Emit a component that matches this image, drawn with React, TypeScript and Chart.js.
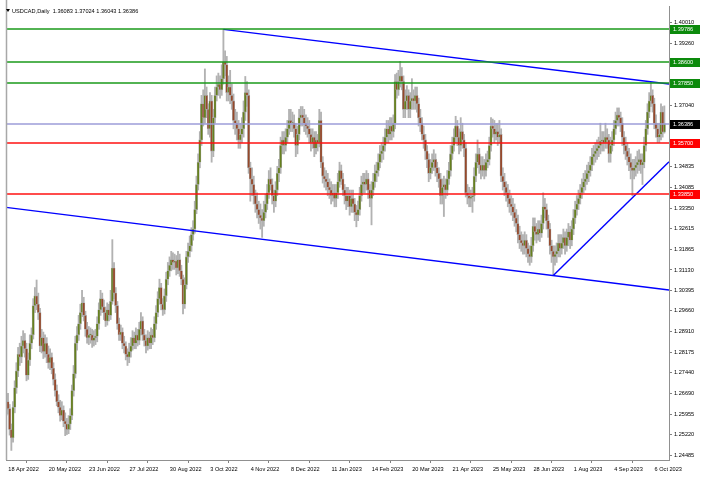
import React, { useEffect, useRef } from "react";
import { Chart, registerables } from "chart.js";

Chart.register(...registerables);

// ---- axis labels ----
const xTickIndex = [0, 24, 48, 72, 96, 120, 144, 168, 192, 216, 240, 264, 288, 312, 336, 360, 384];
const xTickLabels = [
  "18 Apr 2022", "20 May 2022", "23 Jun 2022", "27 Jul 2022", "30 Aug 2022", "3 Oct 2022",
  "4 Nov 2022", "8 Dec 2022", "11 Jan 2023", "14 Feb 2023", "20 Mar 2023", "21 Apr 2023",
  "25 May 2023", "28 Jun 2023", "1 Aug 2023", "4 Sep 2023", "6 Oct 2023",
];
const yTickValues = [
  1.4001, 1.3926, 1.38525, 1.3779, 1.3704, 1.36305, 1.3557, 1.34835, 1.34085, 1.3335, 1.32615,
  1.31865, 1.3113, 1.30395, 1.2966, 1.2891, 1.28175, 1.2744, 1.2669, 1.25955, 1.2522, 1.24485,
];

// ---- daily candles (USDCAD) ----
const closes = [
  1.2640, 1.2615, 1.2540, 1.2510, 1.2620, 1.2690, 1.2750, 1.2810, 1.2800, 1.2840,
  1.2860, 1.2830, 1.2735, 1.2790, 1.2850, 1.2880, 1.2985, 1.3020, 1.2990, 1.2960,
  1.2840, 1.2870, 1.2820, 1.2850, 1.2810, 1.2780, 1.2800, 1.2760, 1.2720, 1.2680,
  1.2640, 1.2620, 1.2590, 1.2610, 1.2570, 1.2560, 1.2540, 1.2560, 1.2590, 1.2680,
  1.2740, 1.2850, 1.2880, 1.2920, 1.2960, 1.2995, 1.2950, 1.2900, 1.2870, 1.2880,
  1.2880, 1.2860, 1.2870, 1.2875, 1.2920, 1.2970, 1.3010, 1.2980, 1.2960, 1.2930,
  1.2970, 1.2950, 1.3000, 1.3120, 1.3030, 1.2985, 1.2920, 1.2880, 1.2890, 1.2850,
  1.2840, 1.2810, 1.2800, 1.2820, 1.2840, 1.2870, 1.2850, 1.2880, 1.2860, 1.2900,
  1.2930, 1.2880, 1.2860, 1.2840, 1.2870, 1.2850, 1.2880, 1.2870, 1.2920, 1.2960,
  1.3010, 1.3050, 1.2990, 1.2970, 1.3020, 1.3080, 1.3110, 1.3130, 1.3150, 1.3140,
  1.3145, 1.3120, 1.3150, 1.3110, 1.3080, 1.2990, 1.3060, 1.3160, 1.3180, 1.3200,
  1.3240, 1.3260, 1.3330, 1.3420, 1.3500, 1.3580, 1.3710, 1.3660, 1.3740, 1.3690,
  1.3620, 1.3720, 1.3540, 1.3660, 1.3740, 1.3770, 1.3780, 1.3760, 1.3800, 1.3860,
  1.3850, 1.3750, 1.3770, 1.3740, 1.3720, 1.3650, 1.3640, 1.3620, 1.3580, 1.3600,
  1.3620, 1.3680, 1.3750, 1.3740, 1.3480, 1.3440, 1.3420, 1.3380, 1.3350, 1.3330,
  1.3310, 1.3300, 1.3290, 1.3320, 1.3350, 1.3390, 1.3440, 1.3420, 1.3380, 1.3360,
  1.3400, 1.3460, 1.3480, 1.3560, 1.3580, 1.3560, 1.3590, 1.3620, 1.3650, 1.3640,
  1.3640, 1.3620, 1.3560, 1.3600, 1.3660, 1.3670, 1.3660, 1.3640, 1.3630, 1.3620,
  1.3600, 1.3570, 1.3590, 1.3550, 1.3580, 1.3570, 1.3650, 1.3500, 1.3450, 1.3440,
  1.3430, 1.3410, 1.3400, 1.3380, 1.3390, 1.3370, 1.3390, 1.3430, 1.3470, 1.3440,
  1.3400, 1.3380, 1.3360, 1.3380, 1.3340, 1.3370, 1.3350, 1.3320, 1.3310, 1.3330,
  1.3380, 1.3420, 1.3430, 1.3420, 1.3440, 1.3400, 1.3370, 1.3400, 1.3430, 1.3460,
  1.3470, 1.3500, 1.3530, 1.3540, 1.3560, 1.3590, 1.3620, 1.3600, 1.3630, 1.3610,
  1.3640, 1.3790, 1.3760, 1.3790, 1.3810, 1.3790, 1.3690, 1.3720, 1.3740, 1.3690,
  1.3720, 1.3730, 1.3720, 1.3740, 1.3710, 1.3660, 1.3640, 1.3600, 1.3580, 1.3540,
  1.3510, 1.3460, 1.3480, 1.3500, 1.3510, 1.3480, 1.3460, 1.3440, 1.3380, 1.3410,
  1.3420, 1.3400, 1.3440, 1.3470, 1.3530, 1.3560, 1.3590, 1.3630, 1.3590, 1.3560,
  1.3610, 1.3580, 1.3550, 1.3390, 1.3380, 1.3370, 1.3375, 1.3380, 1.3450, 1.3500,
  1.3530, 1.3490, 1.3470, 1.3490, 1.3470, 1.3500, 1.3510, 1.3560, 1.3630, 1.3620,
  1.3600, 1.3610, 1.3590, 1.3600, 1.3450, 1.3430, 1.3410, 1.3390, 1.3370, 1.3350,
  1.3340, 1.3320, 1.3300, 1.3280, 1.3240, 1.3220, 1.3210, 1.3200, 1.3220, 1.3190,
  1.3170, 1.3160, 1.3200, 1.3270, 1.3250, 1.3240, 1.3260, 1.3245, 1.3280, 1.3340,
  1.3330, 1.3290, 1.3260, 1.3200, 1.3180, 1.3160, 1.3170, 1.3180, 1.3210, 1.3190,
  1.3210, 1.3230, 1.3200, 1.3230, 1.3250, 1.3220, 1.3260, 1.3300, 1.3330, 1.3350,
  1.3370, 1.3390, 1.3410, 1.3430, 1.3440, 1.3460, 1.3470, 1.3490, 1.3520, 1.3530,
  1.3540, 1.3550, 1.3560, 1.3575, 1.3580, 1.3570, 1.3590, 1.3580, 1.3530, 1.3560,
  1.3580, 1.3620, 1.3650, 1.3670, 1.3660, 1.3640, 1.3590, 1.3560, 1.3540, 1.3520,
  1.3500, 1.3480, 1.3470, 1.3480, 1.3490, 1.3500, 1.3510, 1.3490, 1.3500, 1.3560,
  1.3620, 1.3680, 1.3720, 1.3740, 1.3710, 1.3640, 1.3620, 1.3590, 1.3600, 1.3680,
  1.3608, 1.36386,
];

const opens = [
  1.2610, 1.2640, 1.2615, 1.2540, 1.2510, 1.2620, 1.2690, 1.2750, 1.2810, 1.2800,
  1.2840, 1.2860, 1.2830, 1.2735, 1.2790, 1.2850, 1.2880, 1.2985, 1.3020, 1.2990,
  1.2960, 1.2840, 1.2870, 1.2820, 1.2850, 1.2810, 1.2780, 1.2800, 1.2760, 1.2720,
  1.2680, 1.2640, 1.2620, 1.2590, 1.2610, 1.2570, 1.2560, 1.2540, 1.2560, 1.2590,
  1.2680, 1.2740, 1.2850, 1.2880, 1.2920, 1.2960, 1.2995, 1.2950, 1.2900, 1.2870,
  1.2880, 1.2880, 1.2860, 1.2870, 1.2875, 1.2920, 1.2970, 1.3010, 1.2980, 1.2960,
  1.2930, 1.2970, 1.2950, 1.3000, 1.3120, 1.3030, 1.2985, 1.2920, 1.2880, 1.2890,
  1.2850, 1.2840, 1.2810, 1.2800, 1.2820, 1.2840, 1.2870, 1.2850, 1.2880, 1.2860,
  1.2900, 1.2930, 1.2880, 1.2860, 1.2840, 1.2870, 1.2850, 1.2880, 1.2870, 1.2920,
  1.2960, 1.3010, 1.3050, 1.2990, 1.2970, 1.3020, 1.3080, 1.3110, 1.3130, 1.3150,
  1.3140, 1.3145, 1.3120, 1.3150, 1.3110, 1.3080, 1.2990, 1.3060, 1.3160, 1.3180,
  1.3200, 1.3240, 1.3260, 1.3330, 1.3420, 1.3500, 1.3580, 1.3710, 1.3660, 1.3740,
  1.3690, 1.3620, 1.3720, 1.3540, 1.3660, 1.3740, 1.3770, 1.3780, 1.3760, 1.3800,
  1.3860, 1.3850, 1.3750, 1.3770, 1.3740, 1.3720, 1.3650, 1.3640, 1.3620, 1.3580,
  1.3600, 1.3620, 1.3680, 1.3750, 1.3740, 1.3480, 1.3440, 1.3420, 1.3380, 1.3350,
  1.3330, 1.3310, 1.3300, 1.3290, 1.3320, 1.3350, 1.3390, 1.3440, 1.3420, 1.3380,
  1.3360, 1.3400, 1.3460, 1.3480, 1.3560, 1.3580, 1.3560, 1.3590, 1.3620, 1.3650,
  1.3640, 1.3640, 1.3620, 1.3560, 1.3600, 1.3660, 1.3670, 1.3660, 1.3640, 1.3630,
  1.3620, 1.3600, 1.3570, 1.3590, 1.3550, 1.3580, 1.3570, 1.3650, 1.3500, 1.3450,
  1.3440, 1.3430, 1.3410, 1.3400, 1.3380, 1.3390, 1.3370, 1.3390, 1.3430, 1.3470,
  1.3440, 1.3400, 1.3380, 1.3360, 1.3380, 1.3340, 1.3370, 1.3350, 1.3320, 1.3310,
  1.3330, 1.3380, 1.3420, 1.3430, 1.3420, 1.3440, 1.3400, 1.3370, 1.3400, 1.3430,
  1.3460, 1.3470, 1.3500, 1.3530, 1.3540, 1.3560, 1.3590, 1.3620, 1.3600, 1.3630,
  1.3610, 1.3640, 1.3790, 1.3760, 1.3790, 1.3810, 1.3790, 1.3690, 1.3720, 1.3740,
  1.3690, 1.3720, 1.3730, 1.3720, 1.3740, 1.3710, 1.3660, 1.3640, 1.3600, 1.3580,
  1.3540, 1.3510, 1.3460, 1.3480, 1.3500, 1.3510, 1.3480, 1.3460, 1.3440, 1.3380,
  1.3410, 1.3420, 1.3400, 1.3440, 1.3470, 1.3530, 1.3560, 1.3590, 1.3630, 1.3590,
  1.3560, 1.3610, 1.3580, 1.3550, 1.3390, 1.3380, 1.3370, 1.3375, 1.3380, 1.3450,
  1.3500, 1.3530, 1.3490, 1.3470, 1.3490, 1.3470, 1.3500, 1.3510, 1.3560, 1.3630,
  1.3620, 1.3600, 1.3610, 1.3590, 1.3600, 1.3450, 1.3430, 1.3410, 1.3390, 1.3370,
  1.3350, 1.3340, 1.3320, 1.3300, 1.3280, 1.3240, 1.3220, 1.3210, 1.3200, 1.3220,
  1.3190, 1.3170, 1.3160, 1.3200, 1.3270, 1.3250, 1.3240, 1.3260, 1.3245, 1.3280,
  1.3340, 1.3330, 1.3290, 1.3260, 1.3200, 1.3180, 1.3160, 1.3170, 1.3180, 1.3210,
  1.3190, 1.3210, 1.3230, 1.3200, 1.3230, 1.3250, 1.3220, 1.3260, 1.3300, 1.3330,
  1.3350, 1.3370, 1.3390, 1.3410, 1.3430, 1.3440, 1.3460, 1.3470, 1.3490, 1.3520,
  1.3530, 1.3540, 1.3550, 1.3560, 1.3575, 1.3580, 1.3570, 1.3590, 1.3580, 1.3530,
  1.3560, 1.3580, 1.3620, 1.3650, 1.3670, 1.3660, 1.3640, 1.3590, 1.3560, 1.3540,
  1.3520, 1.3500, 1.3480, 1.3470, 1.3480, 1.3490, 1.3500, 1.3510, 1.3490, 1.3500,
  1.3560, 1.3620, 1.3680, 1.3720, 1.3740, 1.3710, 1.3640, 1.3620, 1.3590, 1.3600,
  1.3680, 1.36083,
];

const highs = [
  1.2665, 1.2670, 1.2630, 1.2560, 1.2640, 1.2715, 1.2780, 1.2835, 1.2850, 1.2875,
  1.2895, 1.2885, 1.2850, 1.2815, 1.2880, 1.2905, 1.3010, 1.3050, 1.3077, 1.3030,
  1.2975, 1.2900, 1.2890, 1.2880, 1.2870, 1.2840, 1.2830, 1.2815, 1.2780, 1.2740,
  1.2700, 1.2665, 1.2645, 1.2640, 1.2625, 1.2600, 1.2580, 1.2590, 1.2615, 1.2700,
  1.2770, 1.2875, 1.2910, 1.2950, 1.2990, 1.3040, 1.3015, 1.2965, 1.2925, 1.2910,
  1.2905, 1.2900, 1.2895, 1.2900, 1.2945, 1.2995, 1.3040, 1.3030, 1.3005, 1.2980,
  1.2995, 1.2990, 1.3040, 1.3222, 1.3140, 1.3050, 1.3000, 1.2940, 1.2915, 1.2905,
  1.2875, 1.2855, 1.2830, 1.2850, 1.2870, 1.2895, 1.2890, 1.2905, 1.2900, 1.2925,
  1.2960, 1.2945, 1.2900, 1.2880, 1.2895, 1.2890, 1.2905, 1.2900, 1.2945, 1.2985,
  1.3035, 1.3080, 1.3065, 1.3010, 1.3045, 1.3105, 1.3140, 1.3160, 1.3180, 1.3175,
  1.3170, 1.3165, 1.3180, 1.3170, 1.3130, 1.3095, 1.3085, 1.3180, 1.3210, 1.3235,
  1.3265, 1.3290, 1.3360, 1.3450, 1.3530, 1.3610, 1.3740, 1.3760, 1.3835, 1.3770,
  1.3710, 1.3750, 1.3740, 1.3690, 1.3770, 1.3810, 1.3820, 1.3810, 1.3850, 1.3977,
  1.3900, 1.3880, 1.3810, 1.3830, 1.3780, 1.3745, 1.3690, 1.3680, 1.3650, 1.3640,
  1.3660, 1.3720, 1.3808, 1.3790, 1.3760, 1.3500, 1.3480, 1.3450, 1.3400, 1.3390,
  1.3360, 1.3350, 1.3330, 1.3360, 1.3385, 1.3420, 1.3470, 1.3480, 1.3440, 1.3400,
  1.3430, 1.3485, 1.3510, 1.3590, 1.3610, 1.3610, 1.3620, 1.3650, 1.3690, 1.3690,
  1.3680, 1.3670, 1.3640, 1.3630, 1.3690, 1.3700, 1.3700, 1.3690, 1.3670, 1.3660,
  1.3650, 1.3620, 1.3620, 1.3610, 1.3610, 1.3600, 1.3690, 1.3680, 1.3520, 1.3480,
  1.3470, 1.3460, 1.3440, 1.3430, 1.3420, 1.3420, 1.3420, 1.3460, 1.3500, 1.3490,
  1.3460, 1.3420, 1.3410, 1.3410, 1.3400, 1.3400, 1.3400, 1.3370, 1.3345, 1.3360,
  1.3410, 1.3450, 1.3460, 1.3460, 1.3470, 1.3460, 1.3420, 1.3430, 1.3460, 1.3490,
  1.3500, 1.3530, 1.3560, 1.3570, 1.3590, 1.3620, 1.3650, 1.3650, 1.3660, 1.3660,
  1.3670, 1.3815, 1.3820, 1.3830, 1.3862, 1.3840, 1.3810, 1.3760, 1.3775, 1.3760,
  1.3750, 1.3800, 1.3760, 1.3770, 1.3770, 1.3730, 1.3690, 1.3660, 1.3630, 1.3600,
  1.3560, 1.3530, 1.3510, 1.3530, 1.3545, 1.3530, 1.3500, 1.3480, 1.3460, 1.3440,
  1.3450, 1.3440, 1.3470, 1.3500, 1.3560, 1.3590, 1.3620, 1.3665, 1.3650, 1.3620,
  1.3660, 1.3640, 1.3600, 1.3570, 1.3420, 1.3410, 1.3400, 1.3410, 1.3480, 1.3530,
  1.3580, 1.3550, 1.3520, 1.3520, 1.3510, 1.3530, 1.3540, 1.3590, 1.3660, 1.3655,
  1.3650, 1.3640, 1.3640, 1.3650, 1.3620, 1.3480, 1.3460, 1.3430, 1.3420, 1.3400,
  1.3380, 1.3370, 1.3350, 1.3330, 1.3310, 1.3270, 1.3250, 1.3240, 1.3250, 1.3240,
  1.3210, 1.3200, 1.3230, 1.3300, 1.3300, 1.3280, 1.3290, 1.3290, 1.3310, 1.3390,
  1.3370, 1.3350, 1.3310, 1.3280, 1.3220, 1.3200, 1.3200, 1.3210, 1.3240, 1.3240,
  1.3240, 1.3260, 1.3250, 1.3260, 1.3280, 1.3270, 1.3290, 1.3330, 1.3360, 1.3380,
  1.3400, 1.3420, 1.3440, 1.3460, 1.3470, 1.3490, 1.3500, 1.3520, 1.3550, 1.3560,
  1.3570, 1.3580, 1.3590, 1.3640, 1.3610, 1.3610, 1.3640, 1.3620, 1.3600, 1.3590,
  1.3610, 1.3650, 1.3680, 1.3695, 1.3695, 1.3680, 1.3660, 1.3610, 1.3590, 1.3570,
  1.3550, 1.3530, 1.3510, 1.3510, 1.3520, 1.3540, 1.3545, 1.3530, 1.3530, 1.3590,
  1.3650, 1.3710, 1.3750, 1.3786, 1.3760, 1.3730, 1.3670, 1.3640, 1.3640, 1.3710,
  1.3700, 1.37024,
];

const lows = [
  1.2590, 1.2595, 1.2520, 1.2465, 1.2495, 1.2600, 1.2670, 1.2730, 1.2770, 1.2780,
  1.2815, 1.2800, 1.2715, 1.2720, 1.2770, 1.2830, 1.2865, 1.2960, 1.2970, 1.2935,
  1.2820, 1.2815, 1.2795, 1.2800, 1.2780, 1.2760, 1.2755, 1.2740, 1.2700, 1.2660,
  1.2625, 1.2600, 1.2570, 1.2575, 1.2550, 1.2518, 1.2522, 1.2525, 1.2540, 1.2575,
  1.2660, 1.2725, 1.2825, 1.2860, 1.2900, 1.2945, 1.2930, 1.2875, 1.2850, 1.2845,
  1.2850, 1.2835, 1.2840, 1.2845, 1.2855, 1.2900, 1.2950, 1.2960, 1.2935, 1.2910,
  1.2915, 1.2930, 1.2935, 1.2990, 1.3010, 1.2960, 1.2900, 1.2860, 1.2860, 1.2830,
  1.2815, 1.2790, 1.2770, 1.2780, 1.2800, 1.2825, 1.2830, 1.2830, 1.2840, 1.2845,
  1.2880, 1.2860, 1.2840, 1.2815, 1.2825, 1.2830, 1.2830, 1.2845, 1.2855, 1.2900,
  1.2945, 1.2990, 1.2970, 1.2950, 1.2955, 1.3000, 1.3060, 1.3090, 1.3110, 1.3115,
  1.3115, 1.3095, 1.3100, 1.3090, 1.3060, 1.2955, 1.2975, 1.3045, 1.3140, 1.3160,
  1.3180, 1.3220, 1.3245, 1.3315, 1.3400, 1.3480, 1.3560, 1.3630, 1.3640, 1.3660,
  1.3600, 1.3590, 1.3500, 1.3520, 1.3640, 1.3720, 1.3740, 1.3730, 1.3740, 1.3780,
  1.3810, 1.3720, 1.3720, 1.3710, 1.3690, 1.3620, 1.3600, 1.3580, 1.3550, 1.3550,
  1.3570, 1.3590, 1.3650, 1.3700, 1.3460, 1.3360, 1.3380, 1.3350, 1.3320, 1.3300,
  1.3280, 1.3260, 1.3230, 1.3270, 1.3300, 1.3330, 1.3370, 1.3400, 1.3350, 1.3320,
  1.3340, 1.3380, 1.3430, 1.3460, 1.3530, 1.3530, 1.3540, 1.3570, 1.3600, 1.3610,
  1.3610, 1.3590, 1.3520, 1.3530, 1.3580, 1.3630, 1.3630, 1.3610, 1.3600, 1.3590,
  1.3570, 1.3540, 1.3550, 1.3520, 1.3530, 1.3540, 1.3555, 1.3480, 1.3425, 1.3410,
  1.3400, 1.3380, 1.3370, 1.3350, 1.3360, 1.3340, 1.3340, 1.3370, 1.3410, 1.3420,
  1.3380, 1.3350, 1.3330, 1.3340, 1.3310, 1.3320, 1.3320, 1.3290, 1.3268, 1.3290,
  1.3310, 1.3360, 1.3390, 1.3390, 1.3400, 1.3370, 1.3340, 1.3275, 1.3380, 1.3410,
  1.3430, 1.3450, 1.3480, 1.3500, 1.3510, 1.3540, 1.3570, 1.3570, 1.3580, 1.3580,
  1.3590, 1.3620, 1.3730, 1.3740, 1.3770, 1.3760, 1.3660, 1.3660, 1.3690, 1.3660,
  1.3660, 1.3690, 1.3690, 1.3690, 1.3680, 1.3630, 1.3610, 1.3580, 1.3550, 1.3510,
  1.3480, 1.3430, 1.3440, 1.3460, 1.3470, 1.3450, 1.3430, 1.3410, 1.3350, 1.3350,
  1.3305, 1.3370, 1.3380, 1.3420, 1.3450, 1.3510, 1.3540, 1.3570, 1.3560, 1.3530,
  1.3540, 1.3550, 1.3520, 1.3375, 1.3350, 1.3340, 1.3340, 1.3320, 1.3360, 1.3430,
  1.3480, 1.3460, 1.3440, 1.3450, 1.3440, 1.3450, 1.3480, 1.3490, 1.3540, 1.3590,
  1.3570, 1.3580, 1.3560, 1.3570, 1.3430, 1.3400, 1.3380, 1.3360, 1.3340, 1.3320,
  1.3310, 1.3290, 1.3270, 1.3250, 1.3210, 1.3190, 1.3180, 1.3170, 1.3170, 1.3160,
  1.3140, 1.3130, 1.3140, 1.3180, 1.3220, 1.3210, 1.3220, 1.3215, 1.3230, 1.3260,
  1.3300, 1.3260, 1.3230, 1.3170, 1.3140, 1.3093, 1.3130, 1.3140, 1.3160, 1.3160,
  1.3170, 1.3190, 1.3170, 1.3180, 1.3200, 1.3190, 1.3200, 1.3240, 1.3280, 1.3310,
  1.3330, 1.3350, 1.3370, 1.3390, 1.3400, 1.3420, 1.3430, 1.3450, 1.3470, 1.3490,
  1.3500, 1.3510, 1.3520, 1.3530, 1.3540, 1.3540, 1.3550, 1.3550, 1.3500, 1.3500,
  1.3540, 1.3560, 1.3600, 1.3630, 1.3630, 1.3610, 1.3560, 1.3530, 1.3510, 1.3490,
  1.3470, 1.3440, 1.3380, 1.3440, 1.3450, 1.3460, 1.3470, 1.3460, 1.3420, 1.3480,
  1.3540, 1.3600, 1.3660, 1.3700, 1.3680, 1.3620, 1.3590, 1.3570, 1.3570, 1.3580,
  1.3590, 1.36043,
];

// ---- drawn objects ----
const greenLevels = [1.39786, 1.386, 1.3785];
const redLevels = [1.357, 1.3385];
const currentPrice = 1.36386;
const upperTrendX = [129, 393.76];
const upperTrendY = [1.3977, 1.3781];
const lowerTrendX = [-0.18, 393.76];
const lowerTrendY = [1.3338, 1.3041];
const supportTrendX = [325, 393.76];
const supportTrendY = [1.3093, 1.3502];

const X_MIN = -0.18;
const X_MAX = 393.76;
const Y_MIN = 1.24306;
const Y_MAX = 1.4061;

const FONT_FAMILY = "'Liberation Sans', Arial, sans-serif";
const FONT_SIZE = 5.6;

const levelsPlugin = {
  id: "levels",
  afterDatasetsDraw(chart: any) {
    const { ctx, chartArea: a, scales } = chart;
    const y = scales.y;
    ctx.save();
    ctx.lineWidth = 1.4;
    const line = (v: number, color: string) => {
      const py = Math.round(y.getPixelForValue(v));
      ctx.strokeStyle = color;
      ctx.beginPath();
      ctx.moveTo(a.left, py);
      ctx.lineTo(a.right, py);
      ctx.stroke();
    };
    line(currentPrice, "#9c9cd8");
    greenLevels.forEach((v) => line(v, "#1a9a1a"));
    redLevels.forEach((v) => line(v, "#ff1010"));
    ctx.restore();
  },
  afterDraw(chart: any) {
    const { ctx, chartArea: a, scales } = chart;
    const y = scales.y;
    ctx.save();
    ctx.strokeStyle = "#a8a8a8";
    ctx.lineWidth = 1.5;
    ctx.beginPath();
    ctx.moveTo(a.left + 0.5, 0);
    ctx.lineTo(a.left + 0.5, a.bottom);
    ctx.stroke();
    ctx.font = `${FONT_SIZE}px ${FONT_FAMILY}`;
    ctx.textBaseline = "middle";
    ctx.textAlign = "left";
    const box = (v: number, bg: string) => {
      const py = Math.round(y.getPixelForValue(v));
      ctx.fillStyle = bg;
      ctx.fillRect(a.right + 1, py - 4, 30, 9);
      ctx.fillStyle = "#ffffff";
      ctx.fillText(v.toFixed(5), a.right + 4, py + 0.5);
    };
    greenLevels.forEach((v) => box(v, "#0c8a0c"));
    redLevels.forEach((v) => box(v, "#ff0000"));
    box(currentPrice, "#000000");
    ctx.restore();
  },
};

export default function App() {
  const canvasRef = useRef<HTMLCanvasElement | null>(null);

  useEffect(() => {
    const canvas = canvasRef.current;
    if (!canvas) return;
    const wickData = highs.map((h, i) => ({ x: i, y: [lows[i], h] }));
    const bodyData = opens.map((o, i) => ({ x: i, y: [o, closes[i]] }));
    const bodyColors = opens.map((o, i) => (closes[i] >= o ? "#66801e" : "#96482a"));
    const toPts = (xs: number[], ys: number[]) => xs.map((x, i) => ({ x, y: ys[i] }));
    const trend = (xs: number[], ys: number[]) => ({
      type: "line",
      data: toPts(xs, ys),
      borderColor: "#0000ff",
      borderWidth: 1.4,
      pointRadius: 0,
      order: 0,
    });

    const chart = new Chart(canvas, {
      type: "bar",
      data: {
        datasets: [
          trend(upperTrendX, upperTrendY) as any,
          trend(lowerTrendX, lowerTrendY) as any,
          trend(supportTrendX, supportTrendY) as any,
          {
            type: "bar",
            data: bodyData,
            backgroundColor: bodyColors,
            borderColor: "#a8a8a8",
            borderWidth: 0.6,
            borderSkipped: false,
            barThickness: 2.3,
            minBarLength: 1,
            grouped: false,
            order: 1,
          } as any,
          {
            type: "bar",
            data: wickData,
            backgroundColor: "#b2b2b2",
            borderWidth: 0,
            barThickness: 1.2,
            grouped: false,
            order: 2,
          } as any,
        ],
      },
      options: {
        responsive: false,
        maintainAspectRatio: false,
        animation: false,
        events: [],
        layout: { padding: { left: 6, top: 6, right: 0, bottom: 0 } },
        plugins: {
          legend: { display: false },
          tooltip: { enabled: false },
        },
        scales: {
          x: {
            type: "linear",
            min: X_MIN,
            max: X_MAX,
            offset: false,
            grid: { drawOnChartArea: false, drawTicks: true, tickLength: 3, color: "#808080" },
            border: { display: true, color: "#909090" },
            afterBuildTicks: (s: any) => {
              s.ticks = xTickIndex.map((v) => ({ value: v }));
            },
            afterFit: (s: any) => {
              s.height = 18;
              s.paddingLeft = 0;
              s.paddingRight = 0;
            },
            ticks: {
              autoSkip: false,
              maxRotation: 0,
              minRotation: 0,
              align: "start",
              labelOffset: 2,
              padding: 3,
              color: "#000000",
              font: { size: FONT_SIZE, family: FONT_FAMILY },
              callback: (v: any) => {
                const k = xTickIndex.indexOf(Number(v));
                return k >= 0 ? xTickLabels[k] : "";
              },
            },
          },
          y: {
            type: "linear",
            position: "right",
            min: Y_MIN,
            max: Y_MAX,
            grid: { drawOnChartArea: false, drawTicks: true, tickLength: 3, color: "#808080" },
            border: { display: true, color: "#909090" },
            afterBuildTicks: (s: any) => {
              s.ticks = yTickValues.map((v) => ({ value: v }));
            },
            afterFit: (s: any) => {
              s.width = 32;
              s.paddingTop = 0;
              s.paddingBottom = 0;
            },
            ticks: {
              autoSkip: false,
              padding: 2,
              color: "#000000",
              font: { size: FONT_SIZE, family: FONT_FAMILY },
              callback: (v: any) => Number(v).toFixed(5),
            },
          },
        },
      } as any,
      plugins: [levelsPlugin],
    });
    return () => chart.destroy();
  }, []);

  return (
    <div style={{ position: "absolute", left: 0, top: 0, width: 701, height: 478, background: "#ffffff" }}>
      <canvas ref={canvasRef} width={701} height={478} style={{ display: "block" }} />
      <div
        style={{
          position: "absolute",
          left: 6,
          top: 9,
          width: 0,
          height: 0,
          borderLeft: "2.5px solid transparent",
          borderRight: "2.5px solid transparent",
          borderTop: "3px solid #000000",
        }}
      />
      <div
        style={{
          position: "absolute",
          left: 12,
          top: 6.5,
          fontFamily: FONT_FAMILY,
          fontSize: FONT_SIZE,
          lineHeight: "8px",
          color: "#000000",
          whiteSpace: "pre",
        }}
      >
        {"USDCAD,Daily  1.36083 1.37024 1.36043 1.36386"}
      </div>
    </div>
  );
}
